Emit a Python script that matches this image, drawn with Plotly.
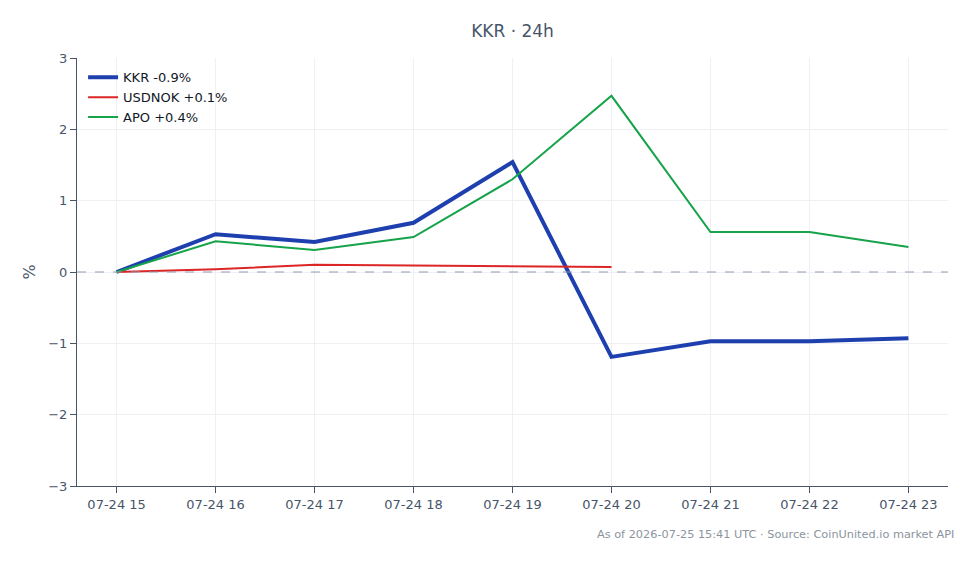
import plotly.graph_objects as go

hours = ["2026-07-24 15:00", "2026-07-24 16:00", "2026-07-24 17:00", "2026-07-24 18:00",
         "2026-07-24 19:00", "2026-07-24 20:00", "2026-07-24 21:00", "2026-07-24 22:00",
         "2026-07-24 23:00"]
kkr = [0.0, 0.53, 0.42, 0.69, 1.54, -1.19, -0.97, -0.97, -0.93]
usdnok = [0.0, 0.04, 0.10, 0.09, 0.085, 0.07]
apo = [0.0, 0.43, 0.31, 0.49, 1.30, 2.47, 0.56, 0.56, 0.35]

font = "DejaVu Sans, sans-serif"
txt = "#475569"

fig = go.Figure()
fig.add_trace(go.Scatter(x=hours, y=kkr, mode="lines", name="KKR -0.9%",
                         line=dict(color="#1e40af", width=4)))
fig.add_trace(go.Scatter(x=hours[:len(usdnok)], y=usdnok, mode="lines", name="USDNOK +0.1%",
                         line=dict(color="#dc2626", width=2)))
fig.add_trace(go.Scatter(x=hours, y=apo, mode="lines", name="APO +0.4%",
                         line=dict(color="#16a34a", width=2)))

fig.add_hline(y=0, line=dict(color="#8f9bb3", width=1, dash="dash"))

fig.update_layout(
    width=980, height=564,
    margin=dict(l=77, r=32, t=58, b=78),
    paper_bgcolor="white", plot_bgcolor="white",
    font=dict(family=font, size=13, color=txt),
    title=dict(text="KKR · 24h", x=0.5, xref="paper", y=0.945, yanchor="middle",
               font=dict(size=17, color=txt)),
    legend=dict(x=0.007, y=0.99, xanchor="left", yanchor="top",
                bgcolor="rgba(255,255,255,0)", font=dict(size=13, color="#111827")),
    showlegend=True,
)
fig.update_xaxes(
    type="date", tickformat="%m-%d %H",
    range=["2026-07-24 14:36", "2026-07-24 23:24"],
    dtick=3600000, showgrid=True, gridcolor="#eef0f3",
    showline=True, linecolor="#475569", linewidth=1,
    ticks="outside", ticklen=6, tickcolor="#475569",
    zeroline=False,
)
fig.update_yaxes(
    range=[-3, 3], dtick=1, showgrid=True, gridcolor="#eef0f3",
    showline=True, linecolor="#475569", linewidth=1,
    ticks="outside", ticklen=6, tickcolor="#475569",
    zeroline=False, title=dict(text="%", standoff=8),
)
fig.add_annotation(text="As of 2026-07-25 15:41 UTC · Source: CoinUnited.io market API",
                   xref="paper", yref="paper", x=1.009, y=-0.113, xanchor="right",
                   yanchor="middle", showarrow=False,
                   font=dict(size=11.3, color="#8b949e"))

fig.write_html("out.html")
